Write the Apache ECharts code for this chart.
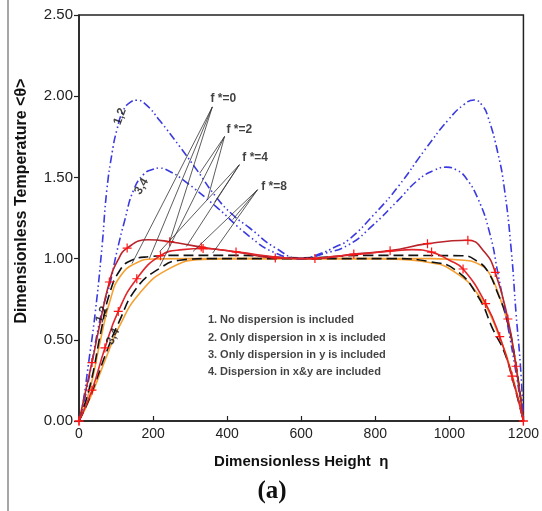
<!DOCTYPE html>
<html>
<head>
<meta charset="utf-8">
<script src="https://cdn.jsdelivr.net/npm/echarts@6/dist/echarts.min.js"></script>
<style>
  html, body { margin: 0; padding: 0; background: #fff; }
  #chart { width: 542px; height: 511px; }
</style>
</head>
<body>
<div id="chart"></div>
<script>
// f*=0 curves (blue dash-dot-dot), cases 1,2 and 3,4
const blue12 = [[0,0],[10,0.1],[26,0.36],[44,0.67],[62,1.07],[75,1.42],[90,1.66],[102,1.79],[119,1.91],[140,1.965],[156,1.975],[180,1.95],[218,1.85],[272,1.69],[320,1.54],[370,1.38],[415,1.27],[460,1.19],[531,1.065],[600,1.0],[650,1.03],[690,1.07],[728,1.116],[800,1.28],[862,1.444],[934,1.67],[997,1.854],[1040,1.95],[1067,1.977],[1090,1.94],[1104,1.875],[1131,1.65],[1149,1.424],[1167,1.055],[1180,0.665],[1192,0.337],[1200,0]];
const blue34 = [[0,0],[10,0.08],[30,0.3],[50,0.55],[66,0.71],[84,0.85],[102,1.04],[124,1.24],[147,1.42],[175,1.52],[200,1.55],[218,1.557],[245,1.536],[281,1.485],[370,1.32],[460,1.137],[531,1.034],[600,1.0],[660,1.03],[728,1.085],[791,1.2],[862,1.36],[916,1.485],[960,1.545],[992,1.563],[1020,1.545],[1042,1.505],[1077,1.37],[1109,1.157],[1131,0.91],[1158,0.583],[1180,0.296],[1200,0]];

// red curves with + marks: [x, y, mark]
const red12 = [[0,0,1],[35,0.36,1],[53,0.56,0],[82,0.856,1],[105,0.99,0],[130,1.065,1],[187,1.116,0],[245,1.104,1],[330,1.071,1],[424,1.041,1],[530,1.004,1],[600,1.0,0],[637,1.0,1],[742,1.028,1],[840,1.049,1],[941,1.092,1],[1050,1.113,1],[1095,1.04,0],[1124,0.915,1],[1158,0.628,1],[1180,0.337,1],[1200,0,1]];
const red34 = [[0,0,1],[35,0.19,1],[70,0.45,1],[106,0.675,1],[156,0.876,1],[220,1.018,1],[280,1.055,0],[335,1.062,1],[430,1.04,0],[530,1.01,0],[600,1.0,0],[700,1.015,0],[840,1.045,0],[900,1.055,0],[952,1.04,1],[1000,0.99,0],[1037,0.936,1],[1098,0.723,1],[1136,0.52,1],[1169,0.276,1],[1200,0,1]];

// black dashed curves
const black12 = [[0,0],[30,0.22],[60,0.56],[82,0.78],[111,0.93],[142,0.99],[191,1.012],[260,1.02],[420,1.02],[600,1.005],[780,1.02],[1033,1.018],[1078,0.98],[1104,0.92],[1130,0.79],[1153,0.645],[1176,0.4],[1200,0]];
const black34 = [[0,0],[30,0.15],[75,0.43],[106,0.6],[156,0.82],[218,0.94],[272,0.99],[350,1.0],[850,1.0],[950,0.98],[1015,0.932],[1077,0.768],[1118,0.563],[1149,0.42],[1175,0.22],[1200,0]];

// orange curves
const orange12 = [[0,0],[30,0.2],[60,0.52],[85,0.75],[111,0.89],[156,0.975],[204,0.998],[300,1.0],[600,1.0],[950,1.0],[1040,0.99],[1080,0.965],[1105,0.92],[1130,0.8],[1158,0.6],[1180,0.35],[1200,0]];
const orange34 = [[0,0],[30,0.14],[75,0.4],[106,0.57],[165,0.79],[245,0.94],[335,0.995],[420,1.0],[800,1.0],[870,0.995],[950,0.975],[1006,0.93],[1077,0.78],[1140,0.49],[1175,0.24],[1200,0]];

// leader lines: label anchor -> curve
const leaderLines = [
  [[360,1.934],[143,0.969]], [[360,1.934],[245,1.106]], [[360,1.934],[190,1.0]],
  [[393,1.752],[326,1.526]], [[393,1.752],[348,1.373]], [[393,1.752],[218,0.952]],
  [[433,1.578],[366,1.347]], [[433,1.578],[290,1.075]], [[433,1.578],[218,1.044]],
  [[482,1.424],[415,1.24]], [[482,1.424],[308,1.044]], [[482,1.424],[361,1.034]]
];

const fLabels = [
  { name: 'f *=0', value: [355, 1.983] },
  { name: 'f *=2', value: [398, 1.793] },
  { name: 'f *=4', value: [441, 1.62] },
  { name: 'f *=8', value: [492, 1.442] }
];
const caseLabels = [
  { name: '1,2', value: [111, 1.875], rot: 70 },
  { name: '3,4', value: [169, 1.444], rot: 60 },
  { name: '1,2', value: [62, 0.655], rot: 70 },
  { name: '3,4', value: [92, 0.52], rot: 65 }
];
const noteLines = [
  { name: '1. No dispersion is included', value: [348, 0.624] },
  { name: '2. Only dispersion in x is included', value: [348, 0.514] },
  { name: '3. Only dispersion in y is included', value: [348, 0.409] },
  { name: '4. Dispersion in x&y are included', value: [348, 0.304] }
];

const plusPath = 'path://M-0.8,-6H0.8V-0.8H6V0.8H0.8V6H-0.8V0.8H-6V-0.8H-0.8Z';
const blueDash = [8, 3, 1.5, 3, 1.5, 3];

function curve(data, color, type, width) {
  return {
    type: 'line', data: data, smooth: 0.5, symbol: 'none',
    lineStyle: { color: color, width: width, type: type }, silent: true, z: 3
  };
}
function markedCurve(data, color) {
  return {
    type: 'line', smooth: 0.5, showSymbol: true, symbolSize: 9,
    data: data.map(d => ({ value: [d[0], d[1]], symbol: d[2] ? plusPath : 'none' })),
    lineStyle: { color: color, width: 1.6 },
    itemStyle: { color: '#ff1414' }, silent: true, z: 4
  };
}
function textSeries(items, style) {
  return {
    type: 'scatter', symbolSize: 0, silent: true, z: 6,
    data: items.map(it => ({ name: it.name, value: it.value, label: it.rot ? { rotate: it.rot } : undefined })),
    label: Object.assign({ show: true, formatter: '{b}', position: 'inside', color: '#111' }, style)
  };
}

const chart = echarts.init(document.getElementById('chart'), null, { renderer: 'canvas' });
chart.setOption({
  animation: false,
  grid: { left: 79, right: 16, top: 15, bottom: 90, show: true, borderColor: '#222', borderWidth: 1.5 },
  xAxis: {
    type: 'value', min: 0, max: 1200, interval: 200,
    name: 'Dimensionless Height  η', nameLocation: 'middle', nameGap: 33,
    nameTextStyle: { fontFamily: 'Liberation Sans', fontWeight: 'bold', fontSize: 15, color: '#111' },
    axisLine: { lineStyle: { color: '#222', width: 1.5 } },
    axisTick: { inside: true, length: 5, lineStyle: { color: '#222', width: 1.2 } },
    axisLabel: { fontFamily: 'Liberation Sans', fontSize: 14, color: '#222', margin: 6, formatter: v => String(v) },
    splitLine: { show: false }
  },
  yAxis: {
    type: 'value', min: 0, max: 2.5, interval: 0.5,
    axisLine: { lineStyle: { color: '#222', width: 1.5 } },
    axisTick: { length: 5, lineStyle: { color: '#222', width: 1.2 } },
    axisLabel: { fontFamily: 'Liberation Sans', fontSize: 15, color: '#222', margin: 6, formatter: v => v.toFixed(2) },
    splitLine: { show: false }
  },
  graphic: [
    { type: 'line', shape: { x1: 8, y1: 0, x2: 8, y2: 511 }, style: { stroke: '#8a8a8a', lineWidth: 1.5 } },
    {
      type: 'text', x: 22, y: 201, rotation: Math.PI / 2,
      style: { text: 'Dimensionless Temperature <θ>', font: 'bold 16px "Liberation Sans", sans-serif', fill: '#111', align: 'center', verticalAlign: 'middle' }
    },
    { type: 'text', x: 272, y: 492, style: { text: '(a)', font: 'bold 25px "Liberation Serif", serif', fill: '#111', align: 'center', verticalAlign: 'middle' } }
  ],
  series: [
    curve(orange12, '#f5a033', 'solid', 1.6),
    curve(orange34, '#f5a033', 'solid', 1.6),
    curve(black12, '#111', [10, 5], 1.6),
    curve(black34, '#111', [10, 5], 1.6),
    markedCurve(red12, '#b8242a'),
    markedCurve(red34, '#e0252b'),
    curve(blue12, '#3a3ae0', blueDash, 1.6),
    curve(blue34, '#3a3ae0', blueDash, 1.6),
    {
      type: 'lines', coordinateSystem: 'cartesian2d', silent: true, z: 5,
      data: leaderLines.map(l => ({ coords: l })),
      lineStyle: { color: '#333', width: 0.8, opacity: 1 }
    },
    textSeries(fLabels, { position: 'right', distance: 0, fontFamily: 'Liberation Sans', fontWeight: 'bold', fontSize: 12 }),
    textSeries(caseLabels, { fontFamily: 'Liberation Sans', fontWeight: 'bold', fontSize: 12 }),
    textSeries(noteLines, { position: 'right', distance: 0, fontFamily: 'Liberation Sans', fontWeight: 'bold', fontSize: 11 })
  ]
});
</script>
</body>
</html>
